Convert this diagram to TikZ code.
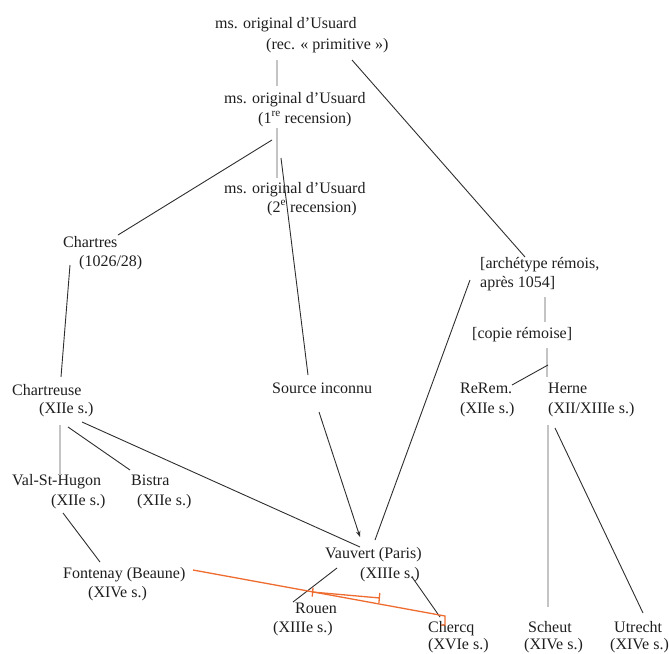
\documentclass[tikz,border=0pt]{standalone}
\usepackage{fontspec}
\setmainfont{Liberation Serif}
\usetikzlibrary{arrows.meta}
\definecolor{ink}{HTML}{1E1E1E}
\definecolor{lineblk}{HTML}{2E2E2E}
\definecolor{linegray}{HTML}{C4C4C4}
\definecolor{orangeln}{HTML}{EF6C30}
\begin{document}
\begin{tikzpicture}[x=1pt,y=-1pt,
  lbl/.style={anchor=base west,inner sep=0pt,text=ink,font=\fontsize{16}{20}\selectfont},
  blk/.style={draw=lineblk,line width=0.9pt},
  gry/.style={draw=linegray,line width=1.2pt},
  org/.style={draw=orangeln,line width=1.3pt}]
\useasboundingbox (0,0) rectangle (669,653);
% texts
\node[lbl] (ms1a) at (215,28) {ms. original d’Usuard};
\node[lbl] (ms1b) at (266,49) {(rec. « primitive »)};
\node[lbl] (ms2a) at (224,103) {ms. original d’Usuard};
\node[lbl] (ms2b) at (258,123) {(1\textsuperscript{re} recension)};
\node[lbl] (ms3a) at (224,193) {ms. original d’Usuard};
\node[lbl] (ms3b) at (267,212) {(2\textsuperscript{e} recension)};
\node[lbl] (chta) at (63,247) {Chartres};
\node[lbl] (chtb) at (79,266) {(1026/28)};
\node[lbl] (arca) at (480,268) {[archétype rémois,};
\node[lbl] (arcb) at (480,287) {après 1054]};
\node[lbl] (copie) at (472,338) {[copie rémoise]};
\node[lbl] (rera) at (460,393) {ReRem.};
\node[lbl] (rerb) at (460,413) {(XIIe s.)};
\node[lbl] (hera) at (548,393) {Herne};
\node[lbl] (herb) at (548,413) {(XII/XIIIe s.)};
\node[lbl] (ctra) at (12,395) {Chartreuse};
\node[lbl] (ctrb) at (39,413) {(XIIe s.)};
\node[lbl] (src) at (272,393) {Source inconnu};
\node[lbl] (vala) at (12,485) {Val-St-Hugon};
\node[lbl] (valb) at (51,505) {(XIIe s.)};
\node[lbl] (bisa) at (131,485) {Bistra};
\node[lbl] (bisb) at (137,505) {(XIIe s.)};
\node[lbl] (fona) at (63,578) {Fontenay (Beaune)};
\node[lbl] (fonb) at (88,597) {(XIVe s.)};
\node[lbl] (vaua) at (325,558) {Vauvert (Paris)};
\node[lbl] (vaub) at (360,578) {(XIIIe s.)};
\node[lbl] (roua) at (295,613) {Rouen};
\node[lbl] (roub) at (273,632) {(XIIIe s.)};
\node[lbl] (chea) at (428,632) {Chercq};
\node[lbl] (cheb) at (428,649) {(XVIe s.)};
\node[lbl] (scha) at (528,632) {Scheut};
\node[lbl] (schb) at (524,649) {(XIVe s.)};
\node[lbl] (utra) at (614,632) {Utrecht};
\node[lbl] (utrb) at (610,649) {(XIVe s.)};
% connector ends
\coordinate (p1) at (277,60);   \coordinate (p2) at (277,86);
\coordinate (p3) at (352,60);   \coordinate (p4) at (525,257);
\coordinate (p5) at (277,128);  \coordinate (p6) at (277,178);
\coordinate (p7) at (272,140);  \coordinate (p8) at (118,235);
\coordinate (p9) at (281,158);  \coordinate (p10) at (308,375);
\coordinate (p11) at (319,412); \coordinate (p12) at (360,537);
\coordinate (p13) at (470,280); \coordinate (p14) at (375,540);
\coordinate (p15) at (70,265);  \coordinate (p16) at (61,377);
\coordinate (p17) at (60,425);  \coordinate (p18) at (60,475);
\coordinate (p19) at (68,427);  \coordinate (p20) at (130,470);
\coordinate (p21) at (82,422);  \coordinate (p22) at (360,547);
\coordinate (p23) at (63,513);  \coordinate (p24) at (100,562);
\coordinate (p25) at (545,297); \coordinate (p26) at (545,322);
\coordinate (p27) at (547,348); \coordinate (p28) at (547,377);
\coordinate (p29) at (548,365); \coordinate (p30) at (512,385);
\coordinate (p31) at (548,425); \coordinate (p32) at (548,607);
\coordinate (p33) at (555,428); \coordinate (p34) at (643,613);
\coordinate (p35) at (337,568); \coordinate (p36) at (293,602);
\coordinate (p37) at (412,577); \coordinate (p38) at (440,617);
\coordinate (o1) at (193,570);  \coordinate (o2) at (445,616);
\coordinate (o3) at (445,625);  \coordinate (o4) at (441,625);
\coordinate (o5) at (312,592);  \coordinate (o6) at (380,598);
% connectors
\draw[gry] (p1) -- (p2);
\draw[blk] (p3) -- (p4);
\draw[gry] (p5) -- (p6);
\draw[blk] (p7) -- (p8);
\draw[blk] (p9) -- (p10);
\draw[blk,-{Stealth[length=6pt,width=4.5pt]}] (p11) -- (p12);
\draw[blk] (p13) -- (p14);
\draw[blk] (p15) -- (p16);
\draw[gry] (p17) -- (p18);
\draw[blk] (p19) -- (p20);
\draw[blk] (p21) -- (p22);
\draw[blk] (p23) -- (p24);
\draw[gry] (p25) -- (p26);
\draw[gry] (p27) -- (p28);
\draw[blk] (p29) -- (p30);
\draw[gry] (p31) -- (p32);
\draw[blk] (p33) -- (p34);
\draw[blk] (p35) -- (p36);
\draw[blk] (p37) -- (p38);
\draw[org] (o1) -- (o2) -- (o3) -- (o4);
\draw[org,{Bar[width=9pt]}-{Bar[width=10pt]}] (o5) -- (o6);
\end{tikzpicture}
\end{document}
